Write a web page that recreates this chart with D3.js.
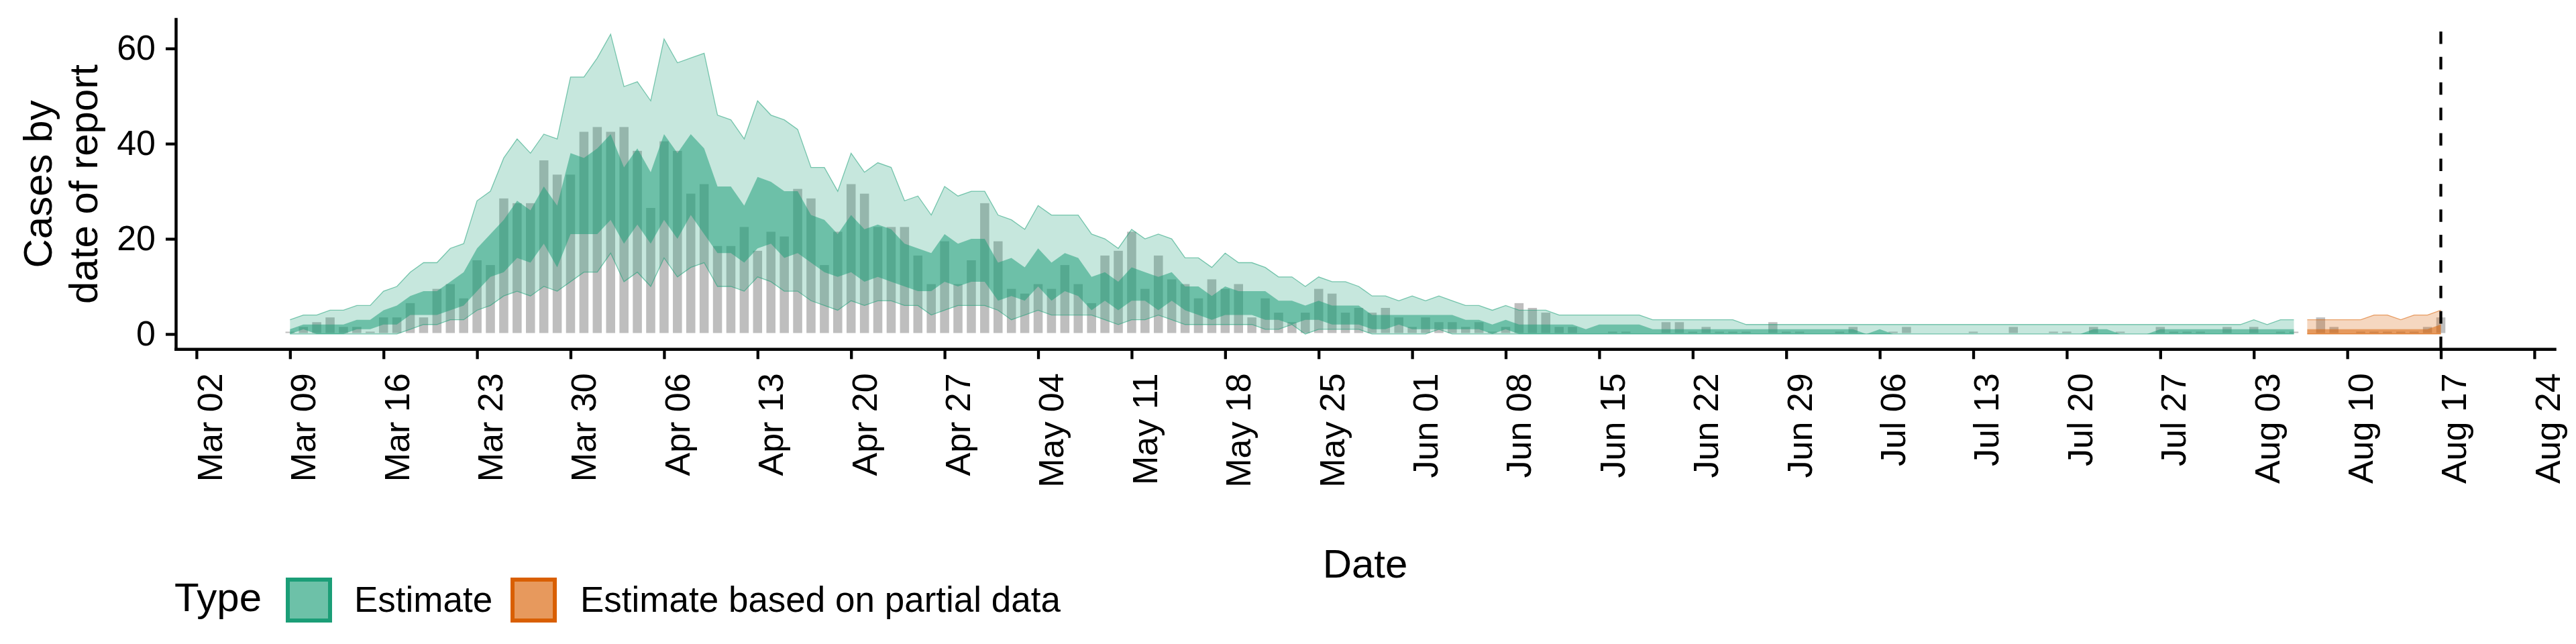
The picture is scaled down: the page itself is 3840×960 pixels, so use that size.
<!DOCTYPE html>
<html>
<head>
<meta charset="utf-8">
<script src="https://cdn.jsdelivr.net/npm/d3@7"></script>
<style>
body { margin: 0; background: #fff; }
svg text { font-family: "Liberation Sans", Arial, Helvetica, sans-serif; fill: #000; }
</style>
</head>
<body>
<script>
// first reported day, first day of the partial-data estimate, report date
var startDate = '2020-03-09', partialStart = '2020-08-07', reportDate = '2020-08-17';

// cases by date of report, one per day from startDate (null = no bar)
var confirm = [
	0,1,2,3,1,1,0,3,3,6,
	3,9,10,7,15,14,28,27,27,36,
	33,33,42,43,42,43,38,26,40,38,
	29,31,18,18,22,17,21,20,30,28,
	14,21,31,29,22,22,22,16,10,19,
	10,15,27,19,9,8,10,9,14,10,
	6,16,17,21,9,16,11,10,7,11,
	9,10,3,7,4,2,4,9,8,4,
	5,4,5,3,1,3,2,2,1,2,
	0,1,6,5,4,1,1,null,null,0,
	0,null,null,2,2,0,1,0,0,0,
	null,2,0,0,null,null,0,1,null,null,
	0,1,null,null,null,null,0,null,null,1,
	null,null,0,0,null,1,null,0,null,null,
	1,0,0,0,null,1,null,1,null,0,
	0,null,3,1,null,0,0,0,0,0,1,3
];

// estimate credible intervals, one per day from startDate
var upper90 = [
	3,4,4,5,5,6,6,9,10,13,
	15,15,18,19,28,30,37,41,38,42,
	41,54,54,58,63,52,53,49,62,57,
	58,59,46,45,41,49,46,45,43,35,
	35,30,38,34,36,35,28,29,25,31,
	29,30,30,25,24,22,27,25,25,25,
	21,20,18,22,20,21,20,16,16,14,
	17,15,15,14,12,12,10,12,11,11,
	10,8,8,7,8,7,8,7,6,6,
	5,6,5,5,5,4,4,4,4,4,
	4,4,3,3,3,3,3,3,3,2,
	2,2,2,2,2,2,2,2,2,2,
	2,2,2,2,2,2,2,2,2,2,
	2,2,2,2,2,2,2,2,2,2,
	2,2,2,2,2,2,2,3,2,3,
	3
];
var upper50 = [
	1,2,2,2,2,3,3,5,6,8,
	9,9,11,13,18,21,24,28,26,31,
	27,38,37,39,42,35,39,34,42,38,
	42,39,31,31,27,33,32,30,30,25,
	24,21,25,22,23,22,19,18,17,21,
	19,20,20,15,16,14,18,15,17,16,
	12,13,11,14,13,12,13,10,10,8,
	10,9,9,9,7,7,6,7,6,6,
	6,4,4,4,4,4,4,4,3,3,
	2,3,2,2,2,2,2,1,2,2,
	2,2,1,1,1,1,1,1,1,1,
	1,1,1,1,1,1,1,1,0,1,
	0,0,0,0,0,0,0,0,0,0,
	0,0,0,0,0,1,1,0,0,0,
	1,1,1,1,1,1,1,1,1,1,
	1
];
var lower50 = [
	0,1,0,0,0,1,1,2,2,4,
	4,4,5,6,9,12,13,16,15,19,
	14,21,21,21,24,19,23,19,24,20,
	25,21,17,17,15,18,19,16,17,15,
	13,12,13,11,12,11,10,9,9,11,
	10,11,11,7,8,7,10,7,9,8,
	5,7,5,7,7,5,7,5,4,3,
	4,4,4,3,3,2,3,3,2,2,
	2,1,1,2,1,1,1,1,1,1,
	0,1,0,0,0,0,0,0,0,0,
	0,0,0,0,0,0,0,0,0,0,
	0,0,0,0,0,0,0,0,0,0,
	0,0,0,0,0,0,0,0,0,0,
	0,0,0,0,0,0,0,0,0,0,
	0,0,0,0,0,0,0,0,0,0,
	0
];
var lower90 = [
	0,0,0,0,0,0,0,0,0,1,
	2,2,3,3,5,6,8,9,8,10,
	9,11,13,13,17,11,13,10,16,12,
	14,15,10,10,9,12,11,9,9,7,
	6,5,7,6,7,7,6,6,4,5,
	6,6,6,5,3,4,5,4,4,4,
	4,3,2,3,3,4,3,2,2,2,
	2,2,2,1,1,2,0,1,1,1,
	1,0,0,0,0,0,1,0,0,0,
	0,0,0,0,0,0,0,0,0,0,
	0,0,0,0,0,0,0,0,0,0,
	0,0,0,0,0,0,0,0,0,0,
	0,0,0,0,0,0,0,0,0,0,
	0,0,0,0,0,0,0,0,0,0,
	0,0,0,0,0,0,0,0,0,0,
	0
];

// estimate based on partial data, one per day from partialStart
var partialUpper90 = [3,3,3,3,3,4,4,3,4,4,5];
var partialUpper50 = [1,1,1,1,1,1,1,1,1,1,2];
var partialLower50 = [0,0,0,0,0,0,0,0,0,0,0];
var partialLower90 = [0,0,0,0,0,0,0,0,0,0,0];

var xTickLabels = ['Mar 02','Mar 09','Mar 16','Mar 23','Mar 30','Apr 06','Apr 13','Apr 20','Apr 27',
	'May 04','May 11','May 18','May 25','Jun 01','Jun 08','Jun 15','Jun 22','Jun 29',
	'Jul 06','Jul 13','Jul 20','Jul 27','Aug 03','Aug 10','Aug 17','Aug 24'];
var yTicks = [0, 20, 40, 60];
var typeLabels = ['Estimate', 'Estimate based on partial data'];
var typeColours = ['#1B9E77', '#D95F02'];

var parseDay = d3.utcParse('%Y-%m-%d'),
	parseTick = d3.utcParse('%b %d %Y'),
	day0 = parseDay(startDate),
	partial0 = parseDay(partialStart);

var bars = confirm.map(function(v, i) { return {date: d3.utcDay.offset(day0, i), value: v}; })
	.filter(function(d) { return d.value !== null; });
var estimate = upper90.map(function(v, i) {
	return {date: d3.utcDay.offset(day0, i), u90: v, u50: upper50[i], l50: lower50[i], l90: lower90[i]};
});
var partial = partialUpper90.map(function(v, i) {
	return {date: d3.utcDay.offset(partial0, i), u90: v, u50: partialUpper50[i], l50: partialLower50[i], l90: partialLower90[i]};
});

var W = 3840, H = 960,
	panelL = 262, panelR = 3808, panelT = 28.6, panelB = 520.3;

var svg = d3.select('body').append('svg').attr('width', W).attr('height', H);
svg.append('rect').attr('width', W).attr('height', H).attr('fill', '#fff');

// ggplot style 5% expansion around the bar extent
var first = d3.utcHour.offset(day0, -10.8),
	last = d3.utcHour.offset(parseDay(reportDate), 10.8),
	pad = (last - first) * 0.05;
var x = d3.scaleUtc().domain([new Date(+first - pad), new Date(+last + pad)]).range([panelL, panelR]);
var ymax = d3.max(upper90.concat(partialUpper90));
var y = d3.scaleLinear().domain([-0.05 * ymax, 1.05 * ymax]).range([panelB, panelT]);

var dayW = x(d3.utcDay.offset(day0, 1)) - x(day0);

// reported cases
svg.append('g').selectAll('rect').data(bars).enter().append('rect')
	.attr('x', function(d) { return x(d.date) - dayW * 0.34; })
	.attr('width', dayW * 0.68)
	.attr('y', function(d) { return y(d.value) - 3.5; })
	.attr('height', function(d) { return y(0) - y(d.value) + 2; })
	.attr('fill', '#BEBEBE');

function ribbons(data, colour) {
	var g = svg.append('g');
	g.append('path').datum(data)
		.attr('d', d3.area().x(function(d) { return x(d.date); }).y0(function(d) { return y(d.l90); }).y1(function(d) { return y(d.u90); }))
		.attr('fill', colour).attr('fill-opacity', 0.25);
	['u90', 'l90'].forEach(function(k) {
		g.append('path').datum(data)
			.attr('d', d3.line().x(function(d) { return x(d.date); }).y(function(d) { return y(d[k]); }))
			.attr('fill', 'none').attr('stroke', colour).attr('stroke-opacity', 0.55).attr('stroke-width', 1.3);
	});
	g.append('path').datum(data)
		.attr('d', d3.area().x(function(d) { return x(d.date); }).y0(function(d) { return y(d.l50); }).y1(function(d) { return y(d.u50); }))
		.attr('fill', colour).attr('fill-opacity', 0.52);
}
ribbons(estimate, typeColours[0]);
ribbons(partial, typeColours[1]);

// report date marker, dashes counted from the bottom of the panel
var xr = x(parseDay(reportDate));
svg.append('line').attr('x1', xr).attr('x2', xr).attr('y1', panelB).attr('y2', panelT)
	.attr('stroke', '#000').attr('stroke-width', 4.3).attr('stroke-dasharray', '18.6,19.3');

// axes
var xAxis = svg.append('g').attr('transform', 'translate(0,' + panelB + ')')
	.call(d3.axisBottom(x)
		.tickValues(xTickLabels.map(function(s) { return parseTick(s + ' 2020'); }))
		.tickFormat(d3.utcFormat('%b %d'))
		.tickSize(15).tickSizeOuter(0));
xAxis.selectAll('text')
	.attr('transform', 'rotate(-90)')
	.attr('x', -36).attr('y', 0).attr('dy', '0.72em')
	.attr('text-anchor', 'end')
	.style('font-size', '52px');

var yAxis = svg.append('g').attr('transform', 'translate(' + panelL + ',0)')
	.call(d3.axisLeft(y).tickValues(yTicks).tickSize(15).tickPadding(15).tickSizeOuter(0));
yAxis.selectAll('text').style('font-size', '52px');

[xAxis, yAxis].forEach(function(a) {
	a.select('.domain').attr('stroke', '#000').attr('stroke-width', 4.5).attr('stroke-linecap', 'square');
	a.selectAll('.tick line').attr('stroke', '#000').attr('stroke-width', 4.3);
});

// titles
svg.append('text').attr('x', (panelL + panelR) / 2).attr('y', 861)
	.attr('text-anchor', 'middle').style('font-size', '60px').text('Date');
[['Cases by', 76.5], ['date of report', 145]].forEach(function(t) {
	svg.append('text').attr('transform', 'translate(' + t[1] + ',' + (panelT + panelB) / 2 + ') rotate(-90)')
		.attr('text-anchor', 'middle').style('font-size', '60px').text(t[0]);
});

// legend
var legend = svg.append('g');
legend.append('text').attr('x', 260).attr('y', 911).style('font-size', '60px').text('Type');
var keyX = [429, 764], labelX = [528, 865];
typeLabels.forEach(function(lab, i) {
	legend.append('rect').attr('x', keyX[i]).attr('y', 864).attr('width', 63).attr('height', 61)
		.attr('fill', d3.interpolateRgb('#fff', typeColours[i])(0.64))
		.attr('stroke', typeColours[i]).attr('stroke-width', 6);
	legend.append('text').attr('x', labelX[i]).attr('y', 912).style('font-size', '53px').text(lab);
});
</script>
</body>
</html>
